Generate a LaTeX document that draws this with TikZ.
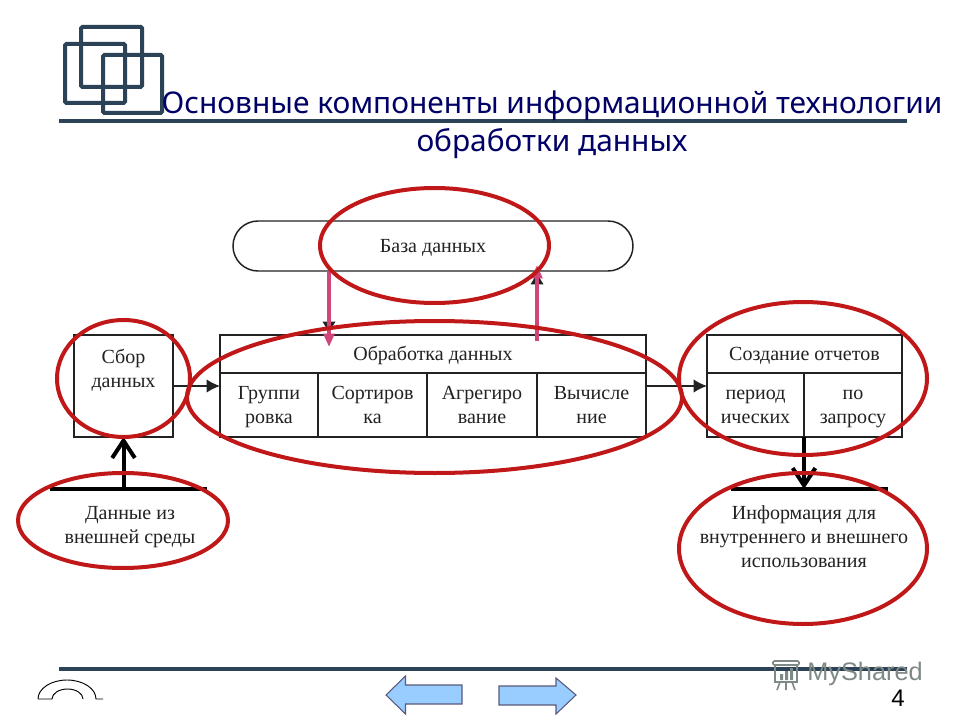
\documentclass[tikz,border=0pt]{standalone}
\usepackage{fontspec}
\setmainfont{Liberation Serif}
\newfontfamily\titlefont{Noto Sans}
\newfontfamily\wmfont{Liberation Sans}
\usetikzlibrary{shapes.geometric,shapes.misc,arrows.meta}
\definecolor{navy}{HTML}{000066}
\definecolor{slate}{HTML}{2B4257}
\definecolor{circ}{HTML}{C01818}
\definecolor{pinka}{HTML}{D0457A}
\definecolor{btn}{HTML}{99CCFF}
\definecolor{btnline}{HTML}{5A5A7A}
\definecolor{wmgrey}{HTML}{7F8A86}
\definecolor{ink}{HTML}{222222}
\newcommand\st{\rule[-3.9pt]{0pt}{18pt}}
\tikzset{
  pxsize/.style 2 args={minimum width=#1*0.75pt,minimum height=#2*0.75pt},
  cellbox/.style={draw=ink,line width=1.1pt,inner sep=0pt,outer sep=0pt,align=center,
    text=ink,font=\fontsize{15}{18}\selectfont},
  plaintxt/.style={inner sep=0pt,align=center,text=ink,font=\fontsize{15}{18}\selectfont},
  ring/.style={ellipse,draw=circ,line width=3pt,inner sep=0pt,outer sep=0pt},
  logosq/.style={draw=slate,line width=3pt,rounded corners=1pt},
  rule/.style={draw=slate,line width=3pt},
  titletxt/.style={inner sep=0pt,anchor=base,text=navy,font=\titlefont\fontsize{22.4}{26}\selectfont},
  flow/.style={draw=ink,line width=1pt,-{Latex[length=10pt,width=10pt]}},
  bar/.style={draw=black,line width=3pt},
  bigflow/.style={draw=black,line width=3pt,-{Straight Barb[length=13pt,width=17pt]}},
  pinkflow/.style={draw=pinka,line width=3.4pt,-{Triangle[length=10pt,width=8pt]}},
  navbtn/.style={fill=btn,draw=btnline,line width=0.8pt},
}
\begin{document}
\begin{tikzpicture}[x=0.75pt,y=-0.75pt]
\useasboundingbox[fill=white] (0,0) rectangle (960,720);
% logo
\draw[logosq] (81,27) rectangle (142,87);
\draw[logosq] (65,44) rectangle (125,103);
\draw[logosq] (103,55) rectangle (162,113);
% title
\coordinate (ruleTL) at (59,121);
\coordinate (ruleTR) at (907,121);
\draw[rule] (ruleTL) -- (ruleTR);
\node[titletxt] (title1) at (552,114) {Основные компоненты информационной технологии};
\node[titletxt] (title2) at (552,152) {обработки данных};
% database
\node[cellbox,rounded rectangle,pxsize={400}{50}] (db) at (433,246) {\st База данных};
% collection
\node[cellbox,pxsize={99}{102}] (sbor) at (123.5,386) {};
\node[plaintxt] (sbortxt) at (123.5,369) {\st Сбор\\\st данных};
% processing
\node[cellbox,pxsize={426}{38}] (proc) at (433,354) {\st Обработка данных};
\node[cellbox,pxsize={98}{64}] (grp) at (269,405) {\st Группи\\\st ровка};
\node[cellbox,pxsize={109}{64}] (sort) at (372.5,405) {\st Сортиров\\\st ка};
\node[cellbox,pxsize={110}{64}] (agg) at (482,405) {\st Агрегиро\\\st вание};
\node[cellbox,pxsize={109}{64}] (calc) at (591.5,405) {\st Вычисле\\\st ние};
% reports
\node[cellbox,pxsize={195}{38}] (rep) at (804.5,354) {\st Создание отчетов};
\node[cellbox,pxsize={97}{64}] (per) at (755.5,405) {\st период\\\st ических};
\node[cellbox,pxsize={98}{64}] (req) at (853,405) {\st по\\\st запросу};
% external texts
\node[plaintxt] (ext) at (130,525) {\st Данные из\\\st внешней среды};
\node[plaintxt] (info) at (804,537) {\st Информация для\\\st внутреннего и внешнего\\\st использования};
% horizontal flows
\draw[flow] (sbor.east) -- (sbor.east -| grp.west);
\draw[flow] (calc.east |- sbor.east) -- (per.west |- sbor.east);
% bars and thick arrows
\coordinate (barLa) at (50,489);
\coordinate (barLb) at (207,489);
\coordinate (barLm) at (123.5,489);
\coordinate (barRa) at (731,489);
\coordinate (barRb) at (888,489);
\coordinate (barRm) at (804,489);
\draw[bar] (barLa) -- (barLb);
\draw[bar] (barRa) -- (barRb);
\draw[bigflow] (barLm) -- (sbor.south);
\draw[bigflow] (per.south east) -- (barRm);
% db <-> processing: black heads under the pink arrows
\coordinate (pinkA) at (329,347);
\coordinate (pinkB) at (537,341);
\coordinate (pinkBtip) at (537,265);
\draw[flow] (pinkA |- db.south) -- (pinkA |- proc.north);
\draw[flow] (pinkB |- proc.north) -- (pinkB |- db.south);
\draw[pinkflow] (pinkA |- db.south) -- (pinkA);
\draw[pinkflow] (pinkB) -- (pinkBtip);
% red rings
\node[ring,pxsize={229}{115}] (ringdb) at (434.5,245.5) {};
\node[ring,pxsize={133}{117}] (ringsb) at (123.5,378.5) {};
\node[ring,pxsize={495}{152}] (ringpr) at (434.5,397) {};
\node[ring,pxsize={248}{153}] (ringre) at (803,378.5) {};
\node[ring,pxsize={210}{95}] (ringex) at (123,520.5) {};
\node[ring,pxsize={248}{151}] (ringin) at (803,548.5) {};
% footer
\coordinate (ruleBL) at (59,669);
\coordinate (ruleBR) at (907,669);
\draw[rule] (ruleBL) -- (ruleBR);
\draw[black,line width=0.7pt] (38,699) arc[start angle=180,end angle=360,x radius=29,y radius=19] -- (103,699);
\draw[black,line width=0.7pt] (38,699) -- (52,699) arc[start angle=180,end angle=360,x radius=15.5,y radius=10];
\draw[navbtn] (386,695) -- (405.5,676) -- (405.5,685) -- (462,685) -- (462,704) -- (405.5,704) -- (405.5,714) -- cycle;
\draw[navbtn] (576,695) -- (556,678) -- (556,686) -- (499,686) -- (499,705) -- (556,705) -- (556,714) -- cycle;
% watermark
\draw[wmgrey,line width=1.2pt,rounded corners=1pt] (773,661) -- (799,661) -- (799,665) -- (773,665) -- cycle;
\draw[wmgrey,line width=1.2pt] (775,665) rectangle (797,682);
\draw[wmgrey,line width=1.2pt] (780,682) -- (777,690) (792,682) -- (795,690) (786,682) -- (786,690);
\fill[wmgrey] (780,674) rectangle (783,680) (785,671) rectangle (788,680) (790,668) rectangle (793,680);
\node[inner sep=0pt,text=wmgrey,font=\wmfont\fontsize{19}{23}\selectfont] (wm) at (865,674) {MyShared};
\node[inner sep=0pt,text=black,font=\wmfont\fontsize{18}{21}\selectfont] (pg) at (898,698) {4};
\end{tikzpicture}
\end{document}
